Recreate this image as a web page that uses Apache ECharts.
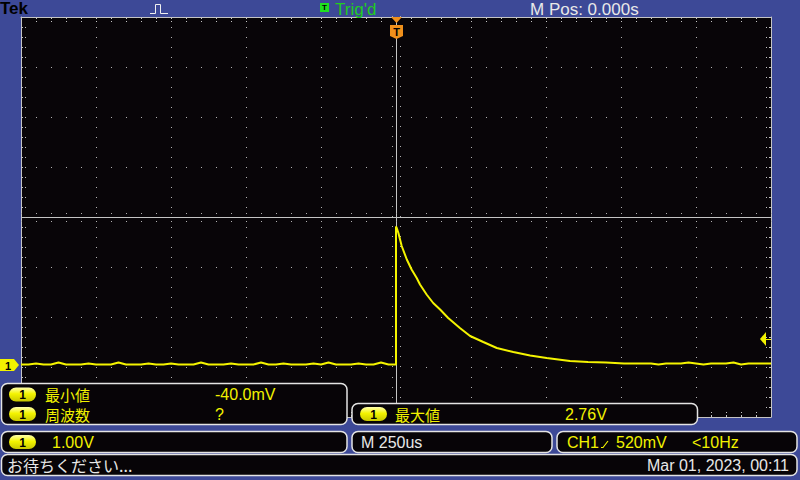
<!DOCTYPE html>
<html><head><meta charset="utf-8">
<script src="https://cdn.jsdelivr.net/npm/echarts@6/dist/echarts.min.js"></script>
<style>html,body{margin:0;padding:0;background:#3d4997;}#c{width:800px;height:480px;}</style>
</head><body><div id="c"></div>
<script>
// ---- scope settings ----
const timeDivUs = 250;          // M 250us
const voltsPerDiv = 1.0;        // CH1 1.00V
const groundOffsetDiv = 2.95;   // ground marker below centre (divisions)
const trigLevelV = 0.52;        // trigger level
const trigTimeUs = 0;           // M Pos 0.000s

// ---- waveform samples (time in us, volts) ----
const waveTimeUs = [
-1250,-1225,-1200,-1175,-1150,-1125,-1100,-1075,-1050,-1025,
-1000,-975,-950,-925,-900,-875,-850,-825,-800,-775,
-750,-725,-700,-675,-650,-625,-600,-575,-550,-525,
-500,-475,-450,-425,-400,-375,-350,-325,-300,-275,
-250,-225,-200,-175,-150,-125,-100,-75,-50,-25,
0,0,3,8,19,36,52,69,80,102,124,147,174,213,247,291,336,391,447,502,580,640,700,760,
800,825,850,875,900,925,950,975,1000,1025,1050,1075,1100,1125,1150,1175,1200,1225,1250];
const waveVolts = [
0.00,0.00,0.02,0.00,0.00,0.04,0.00,0.00,0.00,0.02,
0.00,0.00,0.00,0.04,0.00,0.00,0.00,0.02,0.00,0.00,
0.02,0.00,0.00,0.00,0.04,0.00,0.00,0.00,0.02,0.00,
0.00,0.00,0.04,0.00,0.00,0.02,0.00,0.00,0.00,0.02,
0.00,0.04,0.00,0.00,0.00,0.02,0.00,0.00,0.04,0.00,
0.00,2.76,2.72,2.63,2.37,2.10,1.90,1.73,1.60,1.40,1.23,1.10,0.93,0.73,0.57,0.45,0.33,0.25,0.18,0.13,0.07,0.05,0.04,0.02,
0.02,0.02,0.02,0.00,0.02,0.02,0.02,0.04,0.02,0.00,0.02,0.02,0.02,0.04,0.00,0.02,0.02,0.02,0.02];

// ---- readouts ----
const measureNames = ['最小値', '周波数', '最大値'];
const measureValues = ['-40.0mV', '?', '2.76V'];
const chScaleText = '1.00V';
const timeScaleText = 'M 250us';
const trigText = ['CH1', '520mV', '<10Hz'];
const statusText = 'お待ちください...';
const dateText = 'Mar 01, 2023, 00:11';
const topTexts = ['Tek', "Trig'd", 'M Pos: 0.000s'];

const divX = 5, divY = 4;
const xMin = -divX * timeDivUs, xMax = divX * timeDivUs;
const vMin = (-divY + groundOffsetDiv) * voltsPerDiv, vMax = (divY + groundOffsetDiv) * voltsPerDiv;

const YEL = '#f2f200', WHITE = '#e8e8e8', GRAY = '#c4c4c4', DOT = '#b0b0b0';
const LAT = '"Liberation Sans", "Noto Sans CJK JP", sans-serif';
const CJK = '"Noto Sans CJK JP", "Liberation Sans", sans-serif';

const chart = echarts.init(document.getElementById('c'), null, {renderer: 'svg', width: 800, height: 480});

const tickStyle = {color: GRAY, width: 1, type: [2, 2, 1, 3]};
function frameAxis(extra) {
  return Object.assign({
    type: 'value', axisLabel: {show: false},
    axisLine: {show: true, onZero: false, lineStyle: {color: GRAY, width: 1}},
    axisTick: {show: true, inside: true, length: 5, lineStyle: tickStyle},
    minorTick: {show: true, splitNumber: 5, length: 5, lineStyle: tickStyle},
    splitLine: {show: false}
  }, extra);
}

const waveData = waveTimeUs.map((t, i) => [t, waveVolts[i]]);

function pill(x, y) {
  return [
    {type: 'rect', z: 101, shape: {x: x, y: y, width: 27, height: 14, r: 7},
      style: {fill: new echarts.graphic.LinearGradient(0, 0, 0, 1, [
        {offset: 0, color: '#ffffb0'}, {offset: 0.45, color: '#f4f400'}, {offset: 1, color: '#c8c800'}])}},
    {type: 'text', z: 102, style: {text: '1', x: x + 13.5, y: y + 7.5, font: 'bold 12px ' + LAT, fill: '#000',
      align: 'center', verticalAlign: 'middle', textAlign: 'center', textVerticalAlign: 'middle'}}
  ];
}
function box(x, y, w, h) {
  return {type: 'rect', z: 100, shape: {x: x, y: y, width: w, height: h, r: 6},
    style: {fill: '#070407', stroke: '#e4e4e4', lineWidth: 1.5}};
}
function txt(s, x, y, color, font, align) {
  return {type: 'text', z: 102, style: {text: s, x: x, y: y, fill: color, font: font,
    align: align || 'left', verticalAlign: 'middle', textAlign: align || 'left', textVerticalAlign: 'middle'}};
}

const option = {
  backgroundColor: '#3d4997',
  animation: false,
  grid: {left: 21, top: 17, width: 750, height: 400, show: true, backgroundColor: '#080508', borderWidth: 0, containLabel: false},
  xAxis: [
    frameAxis({min: xMin, max: xMax, interval: timeDivUs, position: 'bottom',
      splitLine: {show: true, lineStyle: {color: DOT, width: 1, type: [1, 9]}}}),
    frameAxis({min: xMin, max: xMax, interval: timeDivUs, position: 'top'})
  ],
  yAxis: [
    frameAxis({min: -divY, max: divY, interval: 1, position: 'left',
      splitLine: {show: true, lineStyle: {color: DOT, width: 1, type: [1, 14]}}}),
    frameAxis({min: -divY, max: divY, interval: 1, position: 'right'}),
    {type: 'value', min: vMin, max: vMax, show: false}
  ],
  series: [
    { // centre graticule crosshair
      type: 'custom', xAxisIndex: 0, yAxisIndex: 0, z: 1, silent: true, data: [[0, 0]],
      renderItem: function (params, api) {
        const cs = params.coordSys;
        const c = api.coord([0, 0]);
        const cy = Math.floor(c[1]) + 0.5, cx = Math.floor(c[0]) + 0.5;
        const kids = [
          {type: 'line', shape: {x1: cs.x, y1: cy, x2: cs.x + cs.width, y2: cy}, style: {stroke: GRAY, lineWidth: 1}},
          {type: 'line', shape: {x1: cx, y1: cs.y, x2: cx, y2: cs.y + cs.height}, style: {stroke: GRAY, lineWidth: 1}}
        ];
        for (let t = xMin; t <= xMax; t += timeDivUs / 5) {
          const px = Math.floor(api.coord([t, 0])[0]);
          kids.push({type: 'rect', shape: {x: px, y: Math.floor(c[1]) - 4, width: 1, height: 1}, style: {fill: DOT}});
          kids.push({type: 'rect', shape: {x: px, y: Math.floor(c[1]) + 4, width: 1, height: 1}, style: {fill: DOT}});
        }
        for (let d = -divY; d <= divY + 1e-9; d += 0.2) {
          const py = Math.floor(api.coord([0, d])[1]);
          kids.push({type: 'rect', shape: {x: Math.floor(c[0]) - 4, y: py, width: 1, height: 1}, style: {fill: DOT}});
          kids.push({type: 'rect', shape: {x: Math.floor(c[0]) + 4, y: py, width: 1, height: 1}, style: {fill: DOT}});
        }
        return {type: 'group', children: kids};
      }
    },
    { // CH1 waveform
      type: 'line', name: 'CH1', xAxisIndex: 0, yAxisIndex: 2, z: 3, data: waveData,
      showSymbol: false, symbol: 'none', silent: true,
      lineStyle: {color: '#f4f400', width: 2}, itemStyle: {color: '#f4f400'}
    },
    { // ground, trigger level and trigger position markers
      type: 'custom', xAxisIndex: 0, yAxisIndex: 2, z: 5, silent: true, data: [[trigTimeUs, trigLevelV]],
      renderItem: function (params, api) {
        const cs = params.coordSys;
        const gy = Math.round(api.coord([xMin, 0])[1]);
        const ty = Math.round(api.coord([xMax, trigLevelV])[1]);
        const tx = Math.round(api.coord([trigTimeUs, 0])[0]);
        const right = cs.x + cs.width;
        const ORA = '#f0901c';
        return {type: 'group', children: [
          {type: 'polygon', shape: {points: [[0, gy - 6], [14, gy - 6], [19, gy], [14, gy + 6], [0, gy + 6]]}, style: {fill: YEL}},
          {type: 'text', style: {text: '1', x: 8, y: gy + 0.5, font: 'bold 11px ' + LAT, fill: '#000', align: 'center', verticalAlign: 'middle', textAlign: 'center', textVerticalAlign: 'middle'}},
          {type: 'polygon', shape: {points: [[right - 11, ty], [right - 5, ty - 7], [right - 5, ty + 7]]}, style: {fill: YEL}},
          {type: 'line', shape: {x1: right - 6, y1: ty + 0.5, x2: right, y2: ty + 0.5}, style: {stroke: YEL, lineWidth: 1}},
          {type: 'polygon', shape: {points: [[tx - 5, cs.y], [tx + 6, cs.y], [tx + 0.5, cs.y + 6]]}, style: {fill: ORA}},
          {type: 'polygon', shape: {points: [[tx - 6, cs.y + 8], [tx + 7, cs.y + 8], [tx + 7, cs.y + 19], [tx + 0.5, cs.y + 22], [tx - 6, cs.y + 19]]}, style: {fill: ORA}},
          {type: 'text', style: {text: 'T', x: tx + 0.5, y: cs.y + 15, font: 'bold 11px ' + LAT, fill: '#000', align: 'center', verticalAlign: 'middle', textAlign: 'center', textVerticalAlign: 'middle'}}
        ]};
      }
    }
  ],
  graphic: {elements: [].concat(
    // top bar
    [txt(topTexts[0], 0, 8, '#000', 'bold 17px ' + LAT),
    {type: 'polyline', z: 100, shape: {points: [[150, 13.5], [155.5, 13.5], [155.5, 4.5], [160.5, 4.5], [160.5, 13.5], [168, 13.5]]}, style: {stroke: '#f0f0f0', lineWidth: 1, fill: null}},
    {type: 'rect', z: 100, shape: {x: 320, y: 3, width: 9, height: 9}, style: {fill: '#20e020'}},
    txt('T', 324.5, 7.5, '#000', 'bold 8px ' + LAT, 'center'),
    txt(topTexts[1], 335, 9, '#22cc22', '17px ' + LAT),
    txt(topTexts[2], 530, 9, WHITE, '17px ' + LAT),
    // measurement boxes
    box(1.5, 383.5, 345.5, 41)],
    pill(9, 387.5), [txt(measureNames[0], 45, 394.5, YEL, '15px ' + CJK), txt(measureValues[0], 215, 394.5, YEL, '16px ' + LAT)],
    pill(9, 407), [txt(measureNames[1], 45, 414, YEL, '15px ' + CJK), txt(measureValues[1], 215, 414, YEL, '16px ' + LAT),
    box(352, 403.5, 345.5, 21)],
    pill(360, 407), [txt(measureNames[2], 395, 414, YEL, '15px ' + CJK), txt(measureValues[2], 565, 414, YEL, '16px ' + LAT),
    // scale row
    box(1.5, 431.5, 345.5, 21)],
    pill(9, 435), [txt(chScaleText, 52, 442.5, YEL, '16px ' + LAT),
    box(352, 431.5, 200, 21),
    txt(timeScaleText, 361, 442.5, WHITE, '16px ' + LAT),
    box(557, 431.5, 240, 21),
    txt(trigText[0], 567, 442.5, YEL, '16px ' + LAT),
    {type: 'polyline', z: 102, shape: {points: [[601, 447.5], [603, 447.5], [608, 441]]}, style: {stroke: YEL, lineWidth: 1.2, fill: null}},
    txt(trigText[1], 616, 442.5, YEL, '16px ' + LAT),
    txt(trigText[2], 692, 442.5, YEL, '16px ' + LAT),
    // status row
    box(1.5, 454.5, 795.5, 21),
    txt(statusText, 7, 465, WHITE, '16px ' + CJK),
    txt(dateText, 789, 465, WHITE, '16px ' + LAT, 'right')]
  )}
};
chart.setOption(option);
</script>
</body></html>
